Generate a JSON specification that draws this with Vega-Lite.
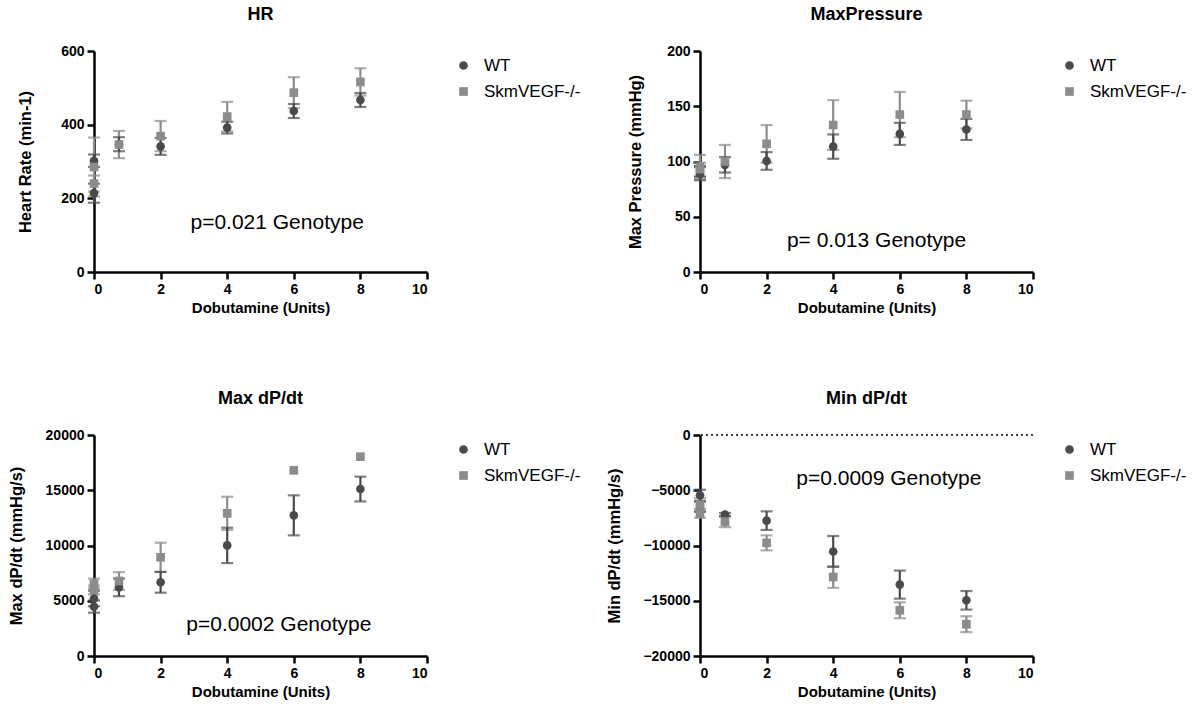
{
  "$schema": "https://vega.github.io/schema/vega-lite/v6.json",
  "background": "white",
  "padding": {"left": 8, "top": 6, "right": 5, "bottom": 5},
  "columns": 2,
  "spacing": {"row": 75, "column": 19},
  "resolve": {"legend": {"color": "independent", "shape": "independent"}},
  "config": {
    "font": "Liberation Sans",
    "view": {"stroke": null},
    "axis": {"domainColor": "black", "domainWidth": 2.5, "tickColor": "black", "tickWidth": 2.5, "tickSize": 7, "labelFontWeight": "bold", "labelFontSize": 14, "labelColor": "black", "titleColor": "black", "titleFontWeight": "bold", "titleFontSize": 15, "grid": false, "labelPadding": 3},
    "axisY": {"titleFontSize": 16.5, "titlePadding": 16},
    "axisX": {"titlePadding": 4},
    "title": {"fontSize": 18, "fontWeight": "bold", "color": "black", "offset": 20},
    "legend": {"title": null, "labelFontSize": 17, "labelColor": "black", "symbolSize": 75, "symbolStrokeWidth": 0, "rowPadding": 8, "offset": 22, "padding": 6, "labelOffset": 12},
    "text": {"font": "Liberation Sans"}
  },
  "concat": [
    {
      "title": "HR",
      "width": 333, "height": 221,
      "data": {"values": [
        {"x": 0, "group": "WT", "mean": 302, "sem": 17},
        {"x": 0, "group": "WT", "mean": 214, "sem": 26},
        {"x": 0, "group": "SkmVEGF-/-", "mean": 285, "sem": 80},
        {"x": 0, "group": "SkmVEGF-/-", "mean": 240, "sem": 22},
        {"x": 0.75, "group": "WT", "mean": 347, "sem": 19},
        {"x": 0.75, "group": "SkmVEGF-/-", "mean": 346, "sem": 37},
        {"x": 2, "group": "WT", "mean": 341, "sem": 23},
        {"x": 2, "group": "SkmVEGF-/-", "mean": 369, "sem": 41},
        {"x": 4, "group": "WT", "mean": 392, "sem": 16},
        {"x": 4, "group": "SkmVEGF-/-", "mean": 422, "sem": 40},
        {"x": 6, "group": "WT", "mean": 437, "sem": 19},
        {"x": 6, "group": "SkmVEGF-/-", "mean": 487, "sem": 42},
        {"x": 8, "group": "WT", "mean": 467, "sem": 19},
        {"x": 8, "group": "SkmVEGF-/-", "mean": 516, "sem": 37}
      ]},
      "layer": [
        {"transform": [{"filter": "datum.group == 'SkmVEGF-/-'"}], "mark": {"type": "errorbar", "ticks": true, "size": 12, "thickness": 2.2, "color": "#8c8c8c"},
         "encoding": {"x": {"field": "x", "type": "quantitative", "title": "Dobutamine (Units)", "scale": {"domain": [0, 10]}, "axis": {"values": [0, 2, 4, 6, 8, 10]}},
                      "y": {"field": "mean", "type": "quantitative", "title": "Heart Rate (min-1)", "scale": {"domain": [0, 600]}, "axis": {"values": [0, 200, 400, 600], "titlePadding": 27}},
                      "yError": {"field": "sem"}}},
        {"transform": [{"filter": "datum.group == 'WT'"}], "mark": {"type": "errorbar", "ticks": true, "size": 12, "thickness": 2.2, "color": "#4a4a4a"},
         "encoding": {"x": {"field": "x", "type": "quantitative", "title": "Dobutamine (Units)"}, "y": {"field": "mean", "type": "quantitative", "title": "Heart Rate (min-1)"}, "yError": {"field": "sem"}}},
        {"mark": {"type": "point", "filled": true, "size": 75, "opacity": 1},
         "encoding": {"x": {"field": "x", "type": "quantitative", "title": "Dobutamine (Units)"}, "y": {"field": "mean", "type": "quantitative", "title": "Heart Rate (min-1)"},
                      "color": {"field": "group", "type": "nominal", "scale": {"domain": ["WT", "SkmVEGF-/-"], "range": ["#4a4a4a", "#8c8c8c"]}, "legend": {"labelExpr": "datum.label == 'WT' ? '\u00a0\u00a0WT' : datum.label"}},
                      "shape": {"field": "group", "type": "nominal", "scale": {"domain": ["WT", "SkmVEGF-/-"], "range": ["circle", "square"]}, "legend": {"labelExpr": "datum.label == 'WT' ? '\u00a0\u00a0WT' : datum.label"}}}},
        {"data": {"values": [{"label": "p=0.021 Genotype"}]}, "mark": {"type": "text", "fontSize": 21, "color": "black", "align": "center", "baseline": "middle"},
         "encoding": {"x": {"datum": 5.5, "type": "quantitative"}, "y": {"datum": 134, "type": "quantitative"}, "text": {"field": "label"}}}
      ]
    },
    {
      "title": "MaxPressure",
      "width": 333, "height": 221,
      "data": {"values": [
        {"x": 0, "group": "WT", "mean": 89, "sem": 6},
        {"x": 0, "group": "WT", "mean": 91, "sem": 5},
        {"x": 0, "group": "SkmVEGF-/-", "mean": 95, "sem": 11},
        {"x": 0, "group": "SkmVEGF-/-", "mean": 93, "sem": 6},
        {"x": 0.75, "group": "WT", "mean": 97, "sem": 7},
        {"x": 0.75, "group": "SkmVEGF-/-", "mean": 100, "sem": 15},
        {"x": 2, "group": "WT", "mean": 100.5, "sem": 8},
        {"x": 2, "group": "SkmVEGF-/-", "mean": 116, "sem": 17},
        {"x": 4, "group": "WT", "mean": 113.5, "sem": 11},
        {"x": 4, "group": "SkmVEGF-/-", "mean": 133, "sem": 22.5},
        {"x": 6, "group": "WT", "mean": 125, "sem": 10},
        {"x": 6, "group": "SkmVEGF-/-", "mean": 142.5, "sem": 20.5},
        {"x": 8, "group": "WT", "mean": 129, "sem": 9.5},
        {"x": 8, "group": "SkmVEGF-/-", "mean": 142.5, "sem": 12.5}
      ]},
      "layer": [
        {"transform": [{"filter": "datum.group == 'SkmVEGF-/-'"}], "mark": {"type": "errorbar", "ticks": true, "size": 12, "thickness": 2.2, "color": "#8c8c8c"},
         "encoding": {"x": {"field": "x", "type": "quantitative", "title": "Dobutamine (Units)", "scale": {"domain": [0, 10]}, "axis": {"values": [0, 2, 4, 6, 8, 10]}},
                      "y": {"field": "mean", "type": "quantitative", "title": "Max Pressure (mmHg)", "scale": {"domain": [0, 200]}, "axis": {"values": [0, 50, 100, 150, 200], "titlePadding": 23}},
                      "yError": {"field": "sem"}}},
        {"transform": [{"filter": "datum.group == 'WT'"}], "mark": {"type": "errorbar", "ticks": true, "size": 12, "thickness": 2.2, "color": "#4a4a4a"},
         "encoding": {"x": {"field": "x", "type": "quantitative", "title": "Dobutamine (Units)"}, "y": {"field": "mean", "type": "quantitative", "title": "Max Pressure (mmHg)"}, "yError": {"field": "sem"}}},
        {"mark": {"type": "point", "filled": true, "size": 75, "opacity": 1},
         "encoding": {"x": {"field": "x", "type": "quantitative", "title": "Dobutamine (Units)"}, "y": {"field": "mean", "type": "quantitative", "title": "Max Pressure (mmHg)"},
                      "color": {"field": "group", "type": "nominal", "scale": {"domain": ["WT", "SkmVEGF-/-"], "range": ["#4a4a4a", "#8c8c8c"]}, "legend": {"labelExpr": "datum.label == 'WT' ? '\u00a0\u00a0WT' : datum.label"}},
                      "shape": {"field": "group", "type": "nominal", "scale": {"domain": ["WT", "SkmVEGF-/-"], "range": ["circle", "square"]}, "legend": {"labelExpr": "datum.label == 'WT' ? '\u00a0\u00a0WT' : datum.label"}}}},
        {"data": {"values": [{"label": "p= 0.013 Genotype"}]}, "mark": {"type": "text", "fontSize": 21, "color": "black", "align": "center", "baseline": "middle"},
         "encoding": {"x": {"datum": 5.3, "type": "quantitative"}, "y": {"datum": 28, "type": "quantitative"}, "text": {"field": "label"}}}
      ]
    },
    {
      "title": "Max dP/dt",
      "width": 333, "height": 221,
      "data": {"values": [
        {"x": 0, "group": "WT", "mean": 5200, "sem": 700},
        {"x": 0, "group": "WT", "mean": 4470, "sem": 550},
        {"x": 0, "group": "SkmVEGF-/-", "mean": 6550, "sem": 450},
        {"x": 0, "group": "SkmVEGF-/-", "mean": 5970, "sem": 400},
        {"x": 0.75, "group": "WT", "mean": 6210, "sem": 800},
        {"x": 0.75, "group": "SkmVEGF-/-", "mean": 6790, "sem": 800},
        {"x": 2, "group": "WT", "mean": 6670, "sem": 940},
        {"x": 2, "group": "SkmVEGF-/-", "mean": 8930, "sem": 1320},
        {"x": 4, "group": "WT", "mean": 10010, "sem": 1600},
        {"x": 4, "group": "SkmVEGF-/-", "mean": 12910, "sem": 1500},
        {"x": 6, "group": "WT", "mean": 12730, "sem": 1810},
        {"x": 6, "group": "SkmVEGF-/-", "mean": 16800, "sem": null},
        {"x": 8, "group": "WT", "mean": 15110, "sem": 1120},
        {"x": 8, "group": "SkmVEGF-/-", "mean": 18040, "sem": null}
      ]},
      "layer": [
        {"transform": [{"filter": "datum.group == 'SkmVEGF-/-' && isValid(datum.sem)"}], "mark": {"type": "errorbar", "ticks": true, "size": 12, "thickness": 2.2, "color": "#8c8c8c"},
         "encoding": {"x": {"field": "x", "type": "quantitative", "title": "Dobutamine (Units)", "scale": {"domain": [0, 10]}, "axis": {"values": [0, 2, 4, 6, 8, 10]}},
                      "y": {"field": "mean", "type": "quantitative", "title": "Max dP/dt (mmHg/s)", "scale": {"domain": [0, 20000]}, "axis": {"values": [0, 5000, 10000, 15000, 20000], "format": "d", "titlePadding": 21}},
                      "yError": {"field": "sem"}}},
        {"transform": [{"filter": "datum.group == 'WT'"}], "mark": {"type": "errorbar", "ticks": true, "size": 12, "thickness": 2.2, "color": "#4a4a4a"},
         "encoding": {"x": {"field": "x", "type": "quantitative", "title": "Dobutamine (Units)"}, "y": {"field": "mean", "type": "quantitative", "title": "Max dP/dt (mmHg/s)"}, "yError": {"field": "sem"}}},
        {"mark": {"type": "point", "filled": true, "size": 75, "opacity": 1},
         "encoding": {"x": {"field": "x", "type": "quantitative", "title": "Dobutamine (Units)"}, "y": {"field": "mean", "type": "quantitative", "title": "Max dP/dt (mmHg/s)"},
                      "color": {"field": "group", "type": "nominal", "scale": {"domain": ["WT", "SkmVEGF-/-"], "range": ["#4a4a4a", "#8c8c8c"]}, "legend": {"labelExpr": "datum.label == 'WT' ? '\u00a0\u00a0WT' : datum.label"}},
                      "shape": {"field": "group", "type": "nominal", "scale": {"domain": ["WT", "SkmVEGF-/-"], "range": ["circle", "square"]}, "legend": {"labelExpr": "datum.label == 'WT' ? '\u00a0\u00a0WT' : datum.label"}}}},
        {"data": {"values": [{"label": "p=0.0002 Genotype"}]}, "mark": {"type": "text", "fontSize": 21, "color": "black", "align": "center", "baseline": "middle"},
         "encoding": {"x": {"datum": 5.55, "type": "quantitative"}, "y": {"datum": 2800, "type": "quantitative"}, "text": {"field": "label"}}}
      ]
    },
    {
      "title": "Min dP/dt",
      "width": 333, "height": 221,
      "data": {"values": [
        {"x": 0, "group": "WT", "mean": -5450, "sem": 500},
        {"x": 0, "group": "WT", "mean": -6500, "sem": 450},
        {"x": 0, "group": "SkmVEGF-/-", "mean": -6300, "sem": 600},
        {"x": 0, "group": "SkmVEGF-/-", "mean": -7100, "sem": 400},
        {"x": 0.75, "group": "WT", "mean": -7210, "sem": 150},
        {"x": 0.75, "group": "SkmVEGF-/-", "mean": -7840, "sem": 500},
        {"x": 2, "group": "WT", "mean": -7750, "sem": 840},
        {"x": 2, "group": "SkmVEGF-/-", "mean": -9760, "sem": 680},
        {"x": 4, "group": "WT", "mean": -10540, "sem": 1400},
        {"x": 4, "group": "SkmVEGF-/-", "mean": -12850, "sem": 980},
        {"x": 6, "group": "WT", "mean": -13540, "sem": 1270},
        {"x": 6, "group": "SkmVEGF-/-", "mean": -15860, "sem": 720},
        {"x": 8, "group": "WT", "mean": -14960, "sem": 840},
        {"x": 8, "group": "SkmVEGF-/-", "mean": -17120, "sem": 720}
      ]},
      "layer": [
        {"transform": [{"filter": "datum.group == 'SkmVEGF-/-'"}], "mark": {"type": "errorbar", "ticks": true, "size": 12, "thickness": 2.2, "color": "#8c8c8c"},
         "encoding": {"x": {"field": "x", "type": "quantitative", "title": "Dobutamine (Units)", "scale": {"domain": [0, 10]}, "axis": {"values": [0, 2, 4, 6, 8, 10]}},
                      "y": {"field": "mean", "type": "quantitative", "title": "Min dP/dt (mmHg/s)", "scale": {"domain": [-20000, 0]}, "axis": {"values": [-20000, -15000, -10000, -5000, 0], "format": "d", "titlePadding": 20}},
                      "yError": {"field": "sem"}}},
        {"transform": [{"filter": "datum.group == 'WT'"}], "mark": {"type": "errorbar", "ticks": true, "size": 12, "thickness": 2.2, "color": "#4a4a4a"},
         "encoding": {"x": {"field": "x", "type": "quantitative", "title": "Dobutamine (Units)"}, "y": {"field": "mean", "type": "quantitative", "title": "Min dP/dt (mmHg/s)"}, "yError": {"field": "sem"}}},
        {"mark": {"type": "point", "filled": true, "size": 75, "opacity": 1},
         "encoding": {"x": {"field": "x", "type": "quantitative", "title": "Dobutamine (Units)"}, "y": {"field": "mean", "type": "quantitative", "title": "Min dP/dt (mmHg/s)"},
                      "color": {"field": "group", "type": "nominal", "scale": {"domain": ["WT", "SkmVEGF-/-"], "range": ["#4a4a4a", "#8c8c8c"]}, "legend": {"labelExpr": "datum.label == 'WT' ? '\u00a0\u00a0WT' : datum.label"}},
                      "shape": {"field": "group", "type": "nominal", "scale": {"domain": ["WT", "SkmVEGF-/-"], "range": ["circle", "square"]}, "legend": {"labelExpr": "datum.label == 'WT' ? '\u00a0\u00a0WT' : datum.label"}}}},
        {"data": {"values": [{"label": "p=0.0009 Genotype"}]}, "mark": {"type": "text", "fontSize": 21, "color": "black", "align": "center", "baseline": "middle"},
         "encoding": {"x": {"datum": 5.67, "type": "quantitative"}, "y": {"datum": -4000, "type": "quantitative"}, "text": {"field": "label"}}},
        {"data": {"values": [{"label": "zero"}]}, "mark": {"type": "rule", "color": "black", "strokeDash": [2, 3], "strokeWidth": 1.5},
         "encoding": {"y": {"datum": 0, "type": "quantitative"}}}
      ]
    }
  ]
}
